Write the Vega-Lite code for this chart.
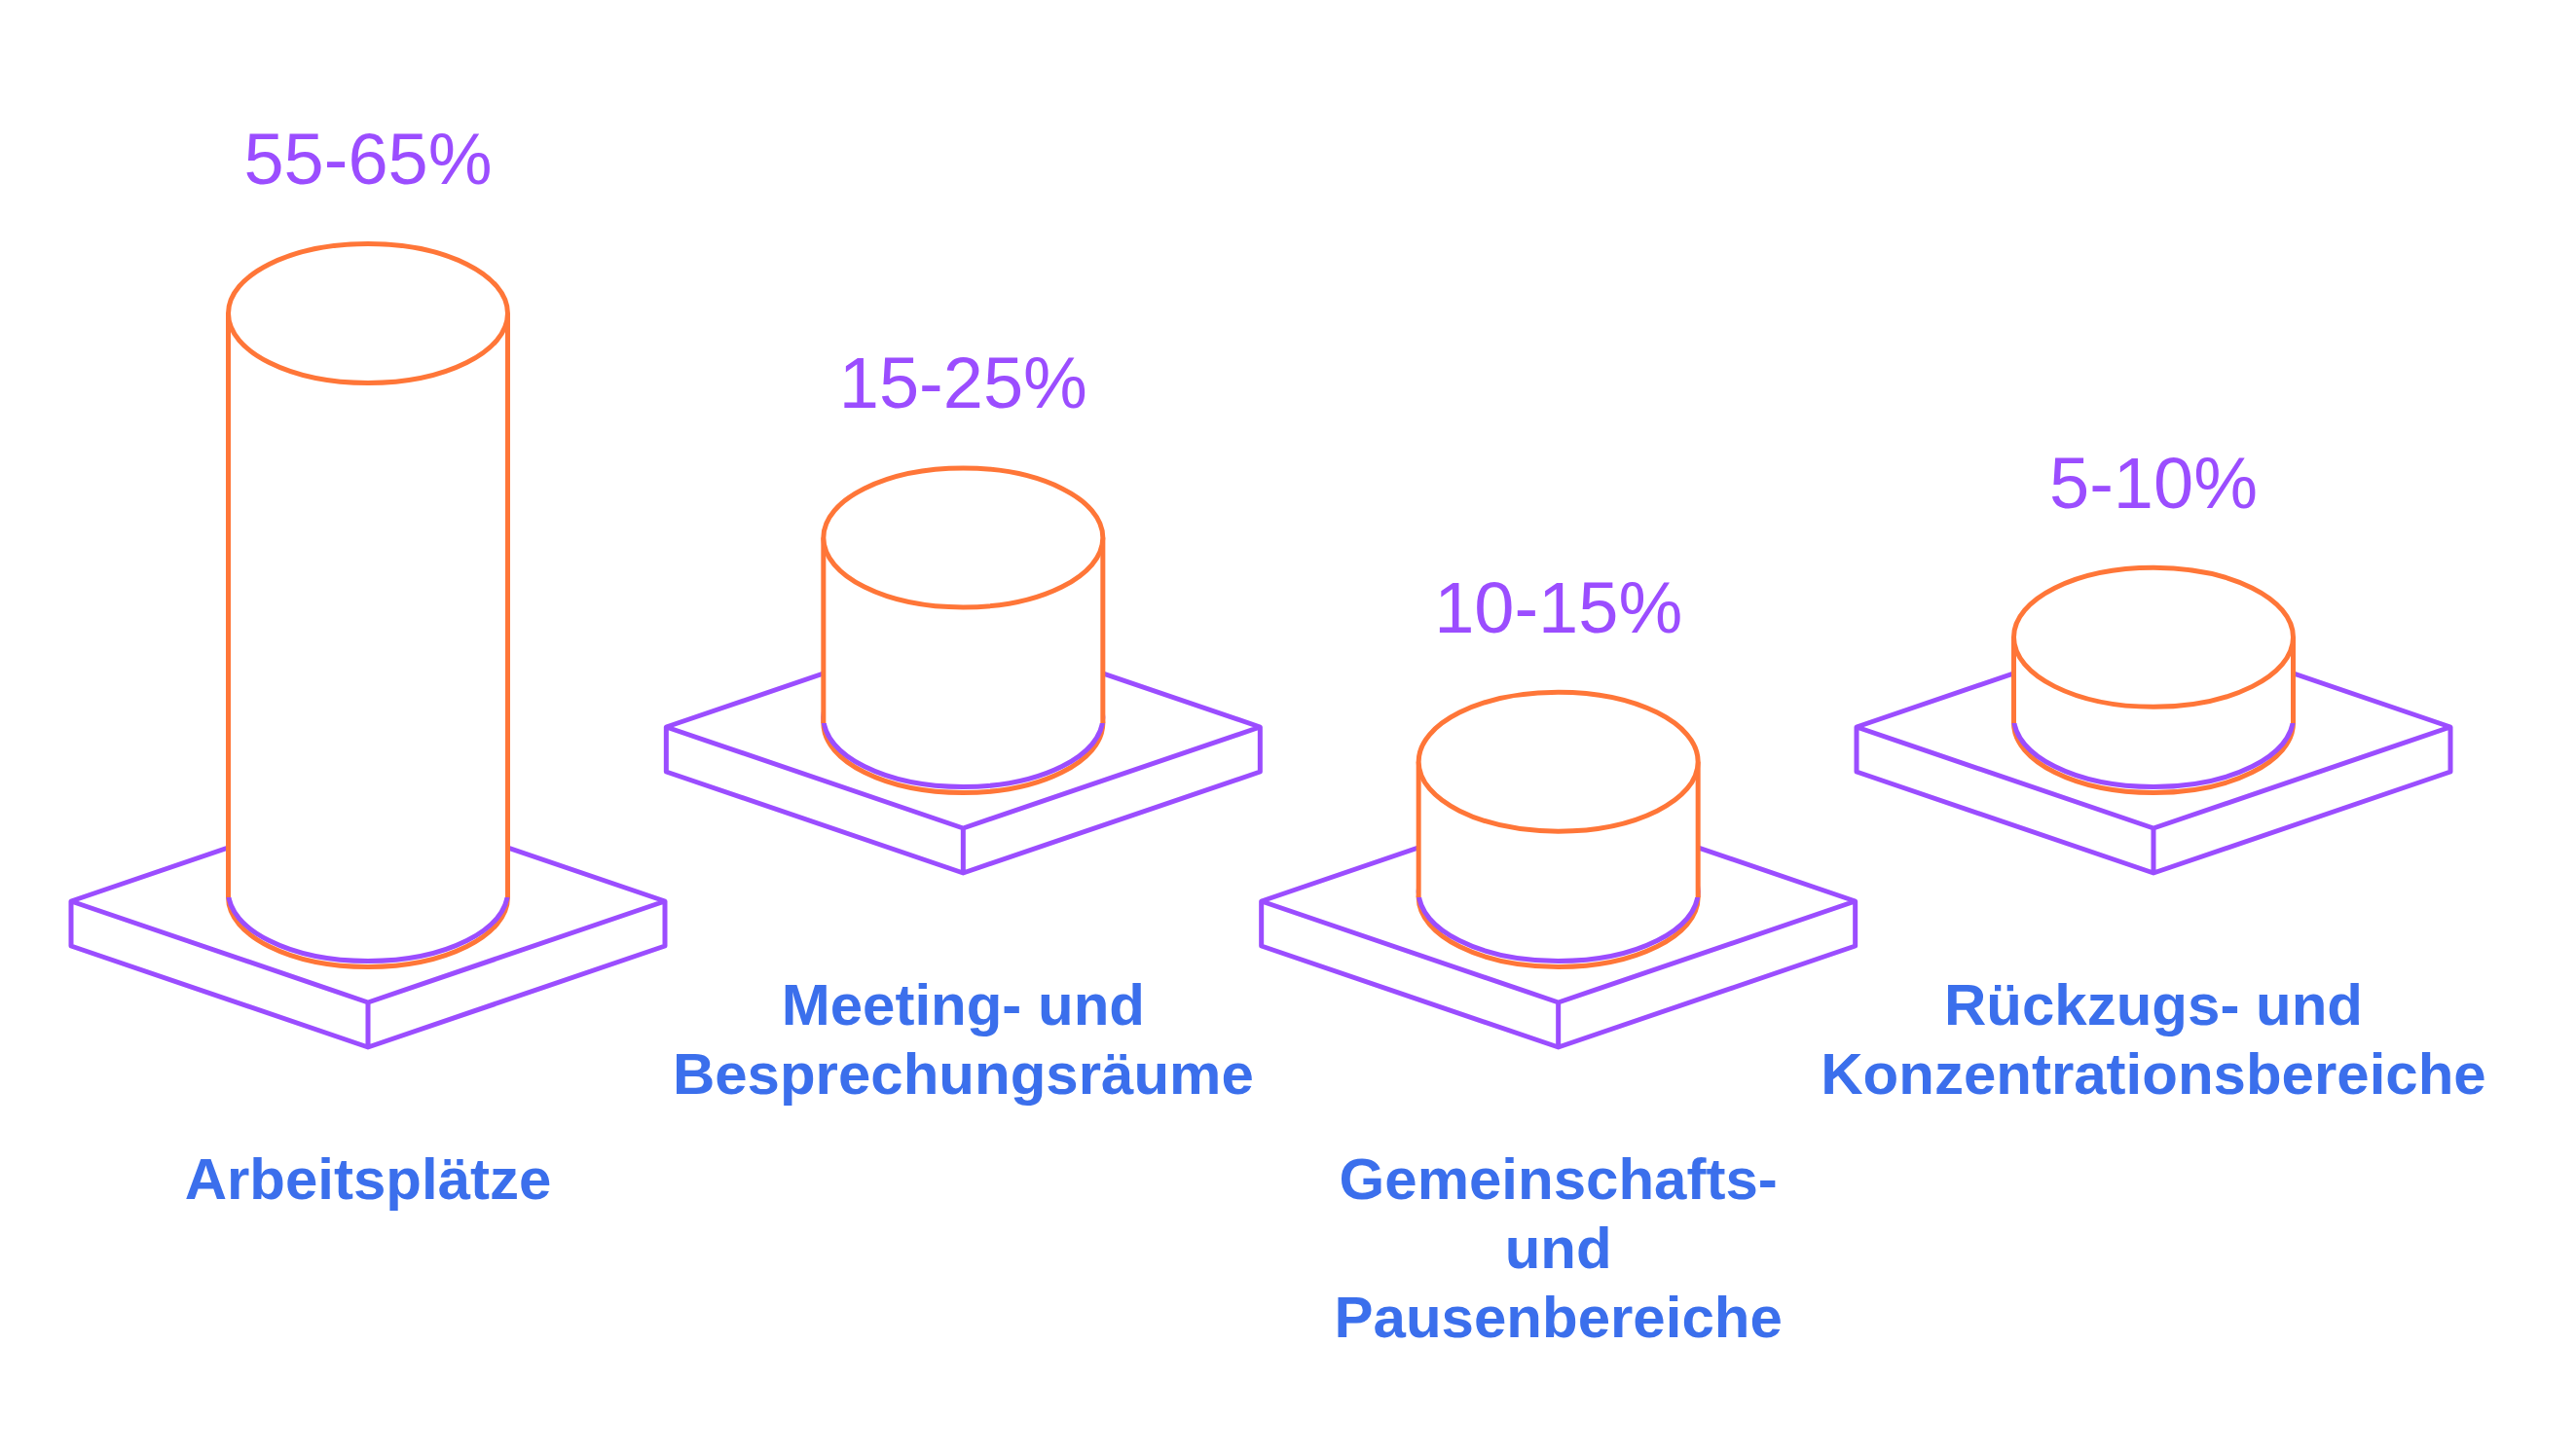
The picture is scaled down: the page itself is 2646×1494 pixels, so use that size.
{
  "$schema": "https://vega.github.io/schema/vega-lite/v6.json",
  "width": 2646,
  "height": 1494,
  "autosize": {"type": "fit", "contains": "padding"},
  "padding": 0,
  "background": "white",
  "config": {"view": {"stroke": null}},
  "data": {
    "values": [
      {"bereich": "Arbeitsplätze", "label": "Arbeitsplätze", "von": 55, "bis": 65, "spanne": "55-65%", "reihe": "vorne"},
      {"bereich": "Meeting- und Besprechungsräume", "label": "Meeting- und\nBesprechungsräume", "von": 15, "bis": 25, "spanne": "15-25%", "reihe": "hinten"},
      {"bereich": "Gemeinschafts- und Pausenbereiche", "label": "Gemeinschafts-\nund\nPausenbereiche", "von": 10, "bis": 15, "spanne": "10-15%", "reihe": "vorne"},
      {"bereich": "Rückzugs- und Konzentrationsbereiche", "label": "Rückzugs- und\nKonzentrationsbereiche", "von": 5, "bis": 10, "spanne": "5-10%", "reihe": "hinten"}
    ]
  },
  "encoding": {
    "x": {
      "field": "bereich", "type": "nominal", "sort": null, "axis": null,
      "scale": {"type": "point", "domain": ["Arbeitsplätze", "Meeting- und Besprechungsräume", "Gemeinschafts- und Pausenbereiche", "Rückzugs- und Konzentrationsbereiche"], "range": [378, 2212], "padding": 0}
    },
    "y": {
      "field": "reihe", "type": "nominal", "axis": null,
      "scale": {"type": "point", "domain": ["hinten", "vorne"], "range": [743, 922], "padding": 0}
    }
  },
  "layer": [
    {
      "mark": {"type": "point", "shape": "M-305,4L0,-100L305,4L305,50L0,154L-305,50ZM-305,4L0,108L305,4M0,108L0,154", "size": 4, "filled": false, "fill": "white", "fillOpacity": 1, "stroke": "#9b4dff", "strokeWidth": 5, "strokeJoin": "round", "opacity": 1}
    },
    {
      "mark": {"type": "point", "shape": "M-143.5,0A143.5,71.5,0,1,0,143.5,0A143.5,71.5,0,1,0,-143.5,0Z", "size": 4, "filled": false, "fill": "white", "fillOpacity": 1, "stroke": "#ff7638", "strokeWidth": 5, "opacity": 1}
    },
    {
      "mark": {"type": "point", "shape": "M-143.5,0A143.5,71.5,0,1,0,143.5,0A143.5,71.5,0,1,0,-143.5,0Z", "size": 4, "filled": false, "fill": "white", "fillOpacity": 1, "stroke": "#9b4dff", "strokeWidth": 5, "opacity": 1, "yOffset": -6}
    },
    {
      "mark": {"type": "rule", "color": "#ff7638", "strokeWidth": 292, "strokeCap": "butt", "opacity": 1},
      "encoding": {
        "yOffset": {"field": "von", "type": "quantitative", "scale": {"type": "linear", "domain": [0, 55], "range": [-37, -600], "zero": false, "nice": false}},
        "y2": {"field": "reihe"}
      }
    },
    {
      "mark": {"type": "rule", "color": "white", "strokeWidth": 282, "strokeCap": "butt", "opacity": 1},
      "encoding": {
        "yOffset": {"field": "von", "type": "quantitative", "scale": {"type": "linear", "domain": [0, 55], "range": [-37, -600], "zero": false, "nice": false}},
        "y2": {"field": "reihe"}
      }
    },
    {
      "mark": {"type": "point", "shape": "M-143.5,0A143.5,71.5,0,1,0,143.5,0A143.5,71.5,0,1,0,-143.5,0Z", "size": 4, "filled": false, "fill": "white", "fillOpacity": 1, "stroke": "#ff7638", "strokeWidth": 5, "opacity": 1},
      "encoding": {
        "yOffset": {"field": "von", "type": "quantitative", "scale": {"type": "linear", "domain": [0, 55], "range": [-37, -600], "zero": false, "nice": false}}
      }
    },
    {
      "mark": {"type": "text", "font": "Liberation Sans", "fontSize": 74, "color": "#9b4dff", "align": "center", "baseline": "alphabetic", "dy": -133},
      "encoding": {
        "yOffset": {"field": "von", "type": "quantitative", "scale": {"type": "linear", "domain": [0, 55], "range": [-37, -600], "zero": false, "nice": false}},
        "text": {"field": "spanne"}
      }
    },
    {
      "mark": {"type": "text", "font": "Liberation Sans", "fontSize": 60, "fontWeight": "bold", "color": "#3b6fec", "align": "center", "baseline": "alphabetic", "dy": 310, "lineBreak": "\n", "lineHeight": 71},
      "encoding": {
        "text": {"field": "label"}
      }
    }
  ]
}
